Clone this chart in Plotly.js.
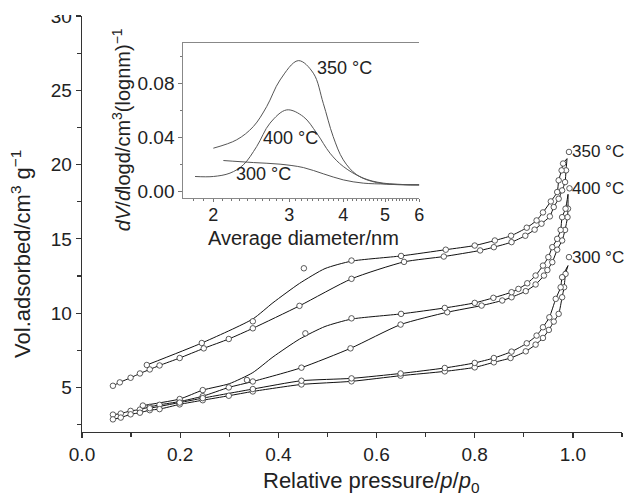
<!DOCTYPE html>
<html><head><meta charset="utf-8">
<script src="https://cdn.plot.ly/plotly-3.0.1.min.js"></script>
<style>html,body{margin:0;padding:0;background:#fff}#chart{width:626px;height:494px}</style>
</head><body><div id="chart"></div>
<script>
// ---------- main isotherms (relative pressure p/p0, volume adsorbed) ----------
const ads350P = [0.063,0.077,0.099,0.118,0.138,0.158,0.199,0.248,0.299,0.348,0.443,0.549,0.656,0.737,0.811,0.839,0.875,0.903,0.922,0.936,0.953,0.961,0.971,0.978,0.984,0.986];
const ads350V = [5.11,5.34,5.65,5.94,6.21,6.48,6.98,7.63,8.26,8.98,10.49,12.31,13.45,13.81,14.22,14.44,14.78,15.21,15.62,16.02,16.51,17.14,17.70,18.26,18.82,19.61];
const des350P = [0.980,0.977,0.971,0.968,0.955,0.939,0.926,0.906,0.874,0.841,0.800,0.741,0.650,0.549,0.452,0.348,0.244,0.132];
const des350V = [20.07,19.61,18.94,18.15,17.52,16.78,16.24,15.75,15.21,14.89,14.55,14.27,13.85,13.54,13.02,9.45,7.99,6.51];
const curve350DesP = [0.988,0.980,0.977,0.971,0.968,0.955,0.939,0.926,0.906,0.874,0.841,0.800,0.741,0.650,0.549,0.495,0.443,0.389,0.348,0.244,0.132];
const curve350DesV = [20.4,20.07,19.61,18.94,18.15,17.52,16.78,16.24,15.75,15.21,14.89,14.55,14.27,13.85,13.50,13.0,12.0,10.7,9.61,7.99,6.51];

const ads400P = [0.063,0.079,0.099,0.118,0.138,0.158,0.199,0.246,0.299,0.348,0.447,0.547,0.649,0.744,0.814,0.856,0.875,0.904,0.924,0.941,0.948,0.958,0.968,0.978,0.984,0.989,0.990];
const ads400V = [3.17,3.24,3.42,3.51,3.69,3.83,4.05,4.41,5.00,5.40,6.33,7.63,9.23,10.06,10.51,10.85,11.07,11.48,11.93,12.53,12.90,13.43,14.27,14.89,15.60,16.46,17.03];
const des400P = [0.985,0.978,0.975,0.968,0.958,0.950,0.939,0.924,0.907,0.889,0.875,0.838,0.800,0.739,0.650,0.549,0.455,0.336,0.246,0.199,0.124];
const des400V = [17.03,16.46,15.60,15.00,14.44,13.77,13.20,12.53,12.01,11.63,11.41,11.03,10.69,10.35,9.95,9.65,8.64,5.50,4.82,4.22,3.78];
const curve400DesP = [0.990,0.985,0.978,0.975,0.968,0.958,0.950,0.939,0.924,0.907,0.889,0.875,0.838,0.800,0.739,0.650,0.549,0.495,0.443,0.389,0.348,0.300,0.246,0.199,0.124];
const curve400DesV = [18.0,17.03,16.46,15.60,15.00,14.44,13.77,13.20,12.53,12.01,11.63,11.41,11.03,10.69,10.35,9.95,9.60,9.10,8.25,7.05,6.0,5.25,4.82,4.22,3.78];

const ads300P = [0.063,0.079,0.099,0.118,0.138,0.158,0.199,0.246,0.299,0.348,0.447,0.549,0.649,0.739,0.800,0.839,0.873,0.904,0.924,0.939,0.951,0.961,0.971,0.978,0.982,0.985];
const ads300V = [2.85,2.97,3.19,3.30,3.47,3.54,3.86,4.14,4.44,4.73,5.20,5.41,5.79,6.08,6.35,6.69,6.98,7.43,7.88,8.33,8.87,9.43,9.95,11.07,11.74,12.64];
const des300P = [0.978,0.975,0.965,0.952,0.939,0.926,0.906,0.875,0.839,0.800,0.739,0.649,0.549,0.447,0.348,0.246,0.199,0.138];
const des300V = [12.42,11.74,10.96,9.72,9.05,8.49,7.97,7.41,6.98,6.65,6.31,5.94,5.61,5.45,4.89,4.28,3.98,3.60];

// loop tips (where branches meet) and the circles beside the labels
const tipP = [0.988, 0.990, 0.990];
const tipV = [20.4, 18.0, 13.2];
const labelCircleP = [0.992, 0.993, 0.992];
const labelCircleV = [20.85, 18.4, 13.77];
const seriesLabels = ['350 °C', '400 °C', '300 °C'];

// ---------- inset: pore size distribution ----------
const d350 = [2.0,2.265,2.476,2.658,2.855,3.147,3.41,3.595,3.79,4.0,4.3,4.78,5.51,6.0];
const v350 = [0.032,0.0382,0.048,0.0627,0.0824,0.0967,0.0874,0.0652,0.0406,0.0234,0.0123,0.0066,0.0049,0.0049];
const d400 = [1.814,2.0,2.186,2.347,2.52,2.706,2.958,3.233,3.472,3.727,4.0,4.45,4.95,6.0];
const v400 = [0.0111,0.0111,0.0136,0.0197,0.0332,0.0505,0.0603,0.0553,0.0431,0.0283,0.0185,0.0099,0.0062,0.0049];
const d300 = [2.11,2.476,2.855,3.233,3.595,4.0,4.45,5.04,6.0];
const v300 = [0.0229,0.0214,0.0202,0.0177,0.0131,0.0086,0.0062,0.0055,0.0049];
const insetTicks = [2,3,4,5,6];
const insetTickText = ['2','3','4','5','6'];
const insetMinorTicks = [1.8,1.9,2.1,2.2,2.3,2.4,2.5,2.6,2.7,2.8,2.9,3.1,3.2,3.3,3.4,3.5,3.6,3.7,3.8,3.9,4.1,4.2,4.3,4.4,4.5,4.6,4.7,4.8,4.9,5.1,5.2,5.3,5.4,5.5,5.6,5.7,5.8,5.9];

const FONT = 'Liberation Sans, Arial, Helvetica, sans-serif';
const TXT = '#222';

function curve(x, y) {
  return {x: x, y: y, mode: 'lines', type: 'scatter', xaxis: 'x', yaxis: 'y',
          line: {color: '#111', width: 1, shape: 'spline', smoothing: 0.6},
          hoverinfo: 'skip', cliponaxis: false};
}
function pts(x, y) {
  return {x: x, y: y, mode: 'markers', type: 'scatter', xaxis: 'x', yaxis: 'y',
          marker: {symbol: 'circle', size: 5.5, color: '#fff', line: {color: '#333', width: 0.8}},
          hoverinfo: 'skip', cliponaxis: false};
}
function insetLine(x, y) {
  return {x: x, y: y, mode: 'lines', type: 'scatter', xaxis: 'x2', yaxis: 'y2',
          line: {color: '#555', width: 1, shape: 'spline', smoothing: 1}, hoverinfo: 'skip'};
}

const traces = [
  curve(ads350P.concat([tipP[0]]), ads350V.concat([tipV[0]])),
  curve(curve350DesP, curve350DesV),
  curve(ads400P.concat([tipP[1]]), ads400V.concat([tipV[1]])),
  curve(curve400DesP, curve400DesV),
  curve(ads300P.concat([tipP[2]]), ads300V.concat([tipV[2]])),
  curve([tipP[2]].concat(des300P), [tipV[2]].concat(des300V)),
  pts(ads350P, ads350V), pts(des350P, des350V),
  pts(ads400P, ads400V), pts(des400P, des400V),
  pts(ads300P, ads300V), pts(des300P, des300V),
  pts(labelCircleP, labelCircleV),
  insetLine(d350, v350), insetLine(d400, v400), insetLine(d300, v300)
];

const annotations = [
  {text: 'Vol.adsorbed/cm<sup>3</sup> g<sup>−1</sup>', xref: 'paper', yref: 'paper', x: -0.113, y: 0.428,
   textangle: -90, showarrow: false, xanchor: 'center', yanchor: 'middle', font: {size: 22, family: FONT, color: TXT}},
  {text: 'Relative pressure/<i>p</i>/<i>p</i><sub>0</sub>', xref: 'paper', yref: 'paper', x: 0.537, y: -0.12,
   showarrow: false, xanchor: 'center', yanchor: 'middle', font: {size: 22, family: FONT, color: TXT}},
  {text: '<i>dV</i>/<i>d</i>logd/cm<sup>3</sup>(lognm)<sup>−1</sup>', xref: 'paper', yref: 'paper', x: 0.0722, y: 0.728,
   textangle: -90, showarrow: false, xanchor: 'center', yanchor: 'middle', font: {size: 20, family: FONT, color: TXT}},
  {text: 'Average diameter/nm', xref: 'paper', yref: 'paper', x: 0.411, y: 0.467,
   showarrow: false, xanchor: 'center', yanchor: 'middle', font: {size: 20, family: FONT, color: TXT}},
  {text: seriesLabels[0], xref: 'paper', yref: 'paper', x: 0.487, y: 0.874, showarrow: false,
   xanchor: 'center', yanchor: 'middle', font: {size: 18, family: FONT, color: TXT}},
  {text: seriesLabels[1], xref: 'paper', yref: 'paper', x: 0.386, y: 0.706, showarrow: false,
   xanchor: 'center', yanchor: 'middle', font: {size: 18, family: FONT, color: TXT}},
  {text: seriesLabels[2], xref: 'paper', yref: 'paper', x: 0.336, y: 0.619, showarrow: false,
   xanchor: 'center', yanchor: 'middle', font: {size: 18, family: FONT, color: TXT}}
];
for (let i = 0; i < 3; i++) {
  annotations.push({text: seriesLabels[i], xref: 'x', yref: 'y', x: labelCircleP[i], y: labelCircleV[i],
    xshift: 1, showarrow: false, xanchor: 'left', yanchor: 'middle',
    font: {size: 17, family: FONT, color: TXT}});
}

const layout = {
  width: 626, height: 494,
  margin: {l: 82, r: 4, t: 16, b: 62},
  paper_bgcolor: '#fff', plot_bgcolor: 'rgba(0,0,0,0)',
  showlegend: false, hovermode: false,
  font: {family: FONT, color: TXT},
  xaxis: {domain: [0, 1], range: [0, 1.1], anchor: 'y', dtick: 0.2, tick0: 0, tickformat: '.1f',
          ticks: 'outside', ticklen: 5, tickwidth: 1.2, tickcolor: '#333',
          minor: {dtick: 0.1, tick0: 0, ticks: 'outside', ticklen: 3.5, tickwidth: 1.2, tickcolor: '#333'},
          showline: true, linecolor: '#333', linewidth: 1.3, showgrid: false, zeroline: false,
          tickfont: {size: 19, family: FONT, color: TXT}},
  yaxis: {domain: [0, 1], range: [2, 30], anchor: 'x', dtick: 5, tick0: 0,
          ticks: 'outside', ticklen: 5, tickwidth: 1.2, tickcolor: '#333',
          minor: {dtick: 2.5, tick0: 0, ticks: 'outside', ticklen: 3.5, tickwidth: 1.2, tickcolor: '#333'},
          showline: true, linecolor: '#333', linewidth: 1.3, showgrid: false, zeroline: false,
          tickfont: {size: 19, family: FONT, color: TXT}},
  xaxis2: {type: 'log', domain: [0.1876, 0.6246], range: [Math.log10(1.704), Math.log10(6.0)], anchor: 'y2',
           tickmode: 'array', tickvals: insetTicks, ticktext: insetTickText,
           ticks: 'outside', ticklen: 3, tickwidth: 1, tickcolor: '#777', ticklabelstandoff: -3,
           minor: {tickmode: 'array', tickvals: insetMinorTicks, ticks: 'outside', ticklen: 2, tickwidth: 1, tickcolor: '#777'},
           showline: true, mirror: true, linecolor: '#888', linewidth: 1, showgrid: false, zeroline: false,
           tickfont: {size: 18, family: FONT, color: TXT}},
  yaxis2: {domain: [0.5618, 0.9344], range: [-0.005, 0.1095], anchor: 'x2', dtick: 0.04, tick0: 0, tickformat: '.2f',
           ticks: 'outside', ticklen: 4, tickwidth: 1, tickcolor: '#777',
           minor: {dtick: 0.02, tick0: 0, ticks: 'outside', ticklen: 2.5, tickwidth: 1, tickcolor: '#777'},
           showline: true, linecolor: '#888', linewidth: 1, showgrid: false, zeroline: false,
           tickfont: {size: 19, family: FONT, color: TXT}},
  annotations: annotations,
  shapes: [
    {type: 'rect', xref: 'paper', yref: 'paper', x0: -0.08, x1: -0.012, y0: 1.0024, y1: 1.045,
     fillcolor: '#fff', line: {width: 0}, layer: 'above'}
  ]
};

Plotly.newPlot('chart', traces, layout, {staticPlot: true, displayModeBar: false});
</script></body></html>
